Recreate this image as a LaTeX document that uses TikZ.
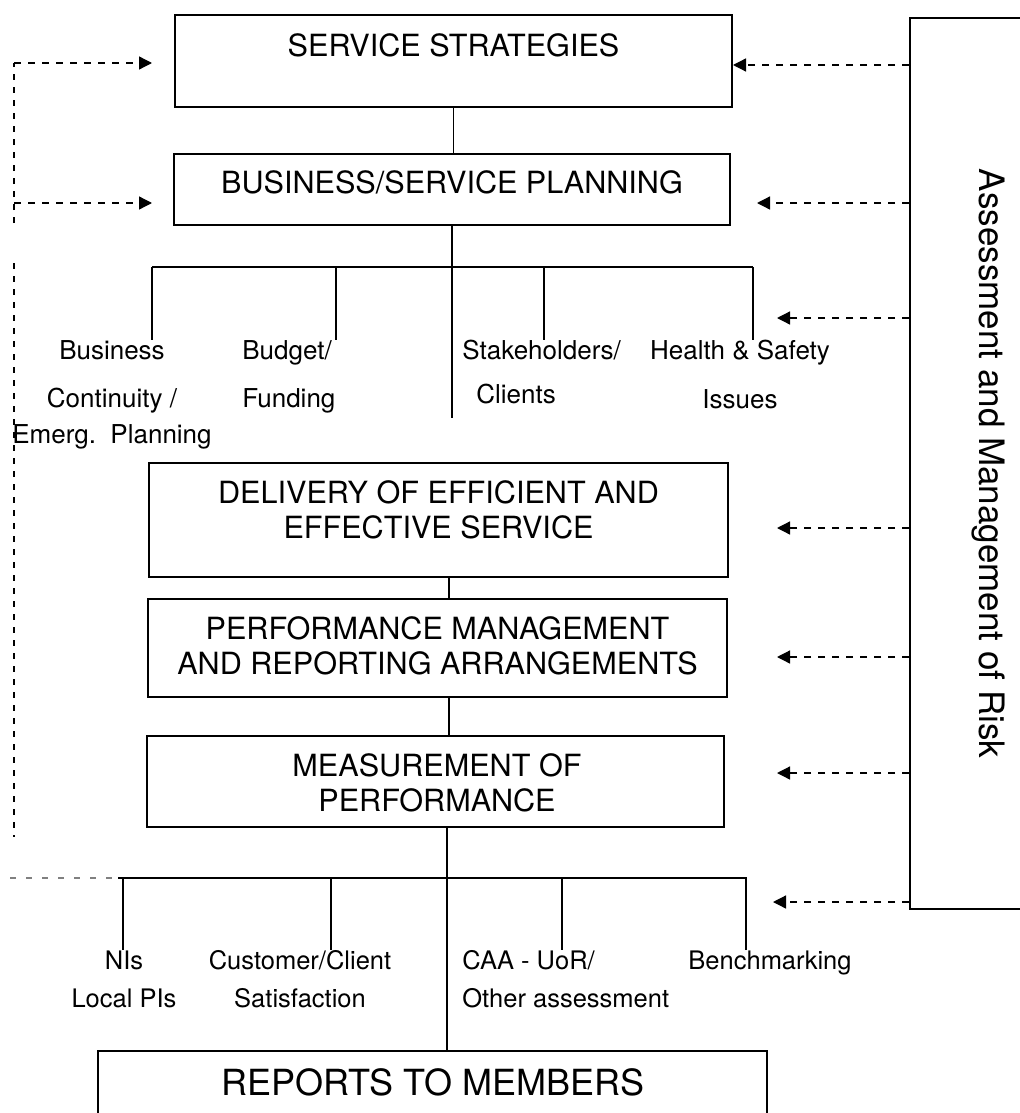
\documentclass[tikz,border=0pt]{standalone}
\usepackage{fontspec}
\setmainfont{TeX Gyre Heros}
\usetikzlibrary{arrows.meta}

\tikzset{
  box/.style={draw, line width=1pt, inner sep=0pt},
  head/.style={align=center, inner sep=0pt, font=\fontsize{15.3pt}{17.5pt}\selectfont},
  item/.style={inner sep=0pt, anchor=north, font=\fontsize{13pt}{20pt}\selectfont},
  low/.style={inner sep=0pt, anchor=north, font=\fontsize{12.75pt}{19pt}\selectfont},
  link/.style={line width=0.65pt},
  dashline/.style={line width=0.65pt, dash pattern=on 3pt off 3.5pt},
  feedback/.style={line width=0.65pt, dash pattern=on 3.5pt off 3.5pt,
    -{Triangle[length=6.5pt,width=6.5pt]}},
}

\begin{document}
\begin{tikzpicture}[x=0.5pt, y=-0.5pt]
    \useasboundingbox (0,0) rectangle (1019,1113);

    % Main boxes
    \node[box, minimum width=278.5pt, minimum height=46pt] (strat) at (453.5,61) {};
    \node[head] (strat-txt) at (453.5,45) {SERVICE STRATEGIES};
    \node[box, minimum width=278pt, minimum height=35.5pt] (plan) at (452,189.5) {};
    \node[head] (plan-txt) at (452,182) {BUSINESS/SERVICE PLANNING};
    \node[box, minimum width=289.5pt, minimum height=57pt] (deliv) at (438.5,520) {};
    \node[head] (deliv-txt) at (438.5,510) {DELIVERY OF EFFICIENT AND\\EFFECTIVE SERVICE};
    \node[box, minimum width=289.5pt, minimum height=49pt] (perf) at (437.5,648) {};
    \node[head] (perf-txt) at (437.5,646) {PERFORMANCE MANAGEMENT\\AND REPORTING ARRANGEMENTS};
    \node[box, minimum width=288.5pt, minimum height=45.5pt] (meas) at (435.5,781.5) {};
    \node[head] (meas-txt) at (437,783) {MEASUREMENT OF\\PERFORMANCE};
    \node[box, minimum width=334.5pt, minimum height=33pt] (reports) at (432.5,1084) {};
    \node[head, font=\fontsize{18pt}{20pt}\selectfont] (reports-txt) at (433,1082) {REPORTS TO MEMBERS};

    % Risk column on the right
    \node[box, rotate=-90, minimum width=445.5pt, minimum height=78pt,
      font=\fontsize{17.5pt}{20pt}\selectfont] (risk) at (988,463.5) {Assessment and Management of Risk};

    % Spine between the boxes
    \draw[link] (strat.south) -- (strat.south |- plan.north);
    \coordinate (stemend) at (452,418);
    \draw[link] (plan.south) -- (stemend);
    \draw[link] (deliv.south -| 449,0) -- (perf.north -| 449,0);
    \draw[link] (perf.south -| 449,0) -- (meas.north -| 449,0);
    \draw[link] (meas.south -| 447,0) -- (reports.north -| 447,0);

    % Planning inputs
    \coordinate (barL) at (152,267);
    \coordinate (barR) at (753,267);
    \draw[link] (barL) -- (barR);
    \node[item, align=center] (bcont) at (112,340) {Business\\[4pt]Continuity /\\[-2pt]Emerg.\ \ Planning};
    \node[item, anchor=north west, align=left] (budget) at (242,340) {Budget/\\[4pt]Funding};
    \node[item, anchor=north west, align=left] (stake) at (462,340) {Stakeholders/\\[2pt]\hspace{7pt}Clients};
    \node[item, align=center] (health) at (740,340) {Health \& Safety\\[4.5pt]Issues};
    \foreach \x/\lab in {152/bcont, 336/budget, 544/stake, 753/health} {
        \draw[link] (\x,267) -- (\x,267 |- \lab.north);
    }

    % Measures
    \coordinate (lowL) at (118,878);
    \coordinate (lowR) at (747,878);
    \draw[link] (lowL) -- (lowR);
    \draw[line width=0.6pt, gray, dash pattern=on 3pt off 5pt] (10,878) -- (lowL);
    \node[low, align=center] (nis) at (124,950) {NIs\\Local PIs};
    \node[low, align=center] (cust) at (300,950) {Customer/Client\\Satisfaction};
    \node[low, anchor=north west, align=left] (caa) at (462,950) {CAA - UoR/\\Other assessment};
    \node[low] (bench) at (770,950) {Benchmarking};
    \foreach \x/\lab in {123/nis, 331/cust, 562/caa, 746/bench} {
        \draw[link] (\x,878) -- (\x,878 |- \lab.north);
    }

    % Feedback loop on the left
    \coordinate (fbtop) at (14,63);
    \coordinate (fbmid) at (14,203);
    \coordinate (fbgap) at (14,223);
    \coordinate (fbrest) at (14,263);
    \coordinate (fbend) at (14,837);
    \coordinate (fbin1) at (152,63);
    \coordinate (fbin2) at (152,203);
    \draw[dashline] (fbgap) -- (fbtop);
    \draw[dashline] (fbrest) -- (fbend);
    \draw[feedback] (fbtop) -- (fbin1);
    \draw[feedback] (fbmid) -- (fbin2);

    % Risk arrows
    \foreach \n/\x/\y in {1/733/65, 2/757/203, 3/777/318, 4/777/528, 5/777/657, 6/777/773, 7/773/902} {
        \coordinate (rin\n) at (\x,\y);
        \draw[feedback] (risk.south |- rin\n) -- (rin\n);
    }
\end{tikzpicture}
\end{document}
